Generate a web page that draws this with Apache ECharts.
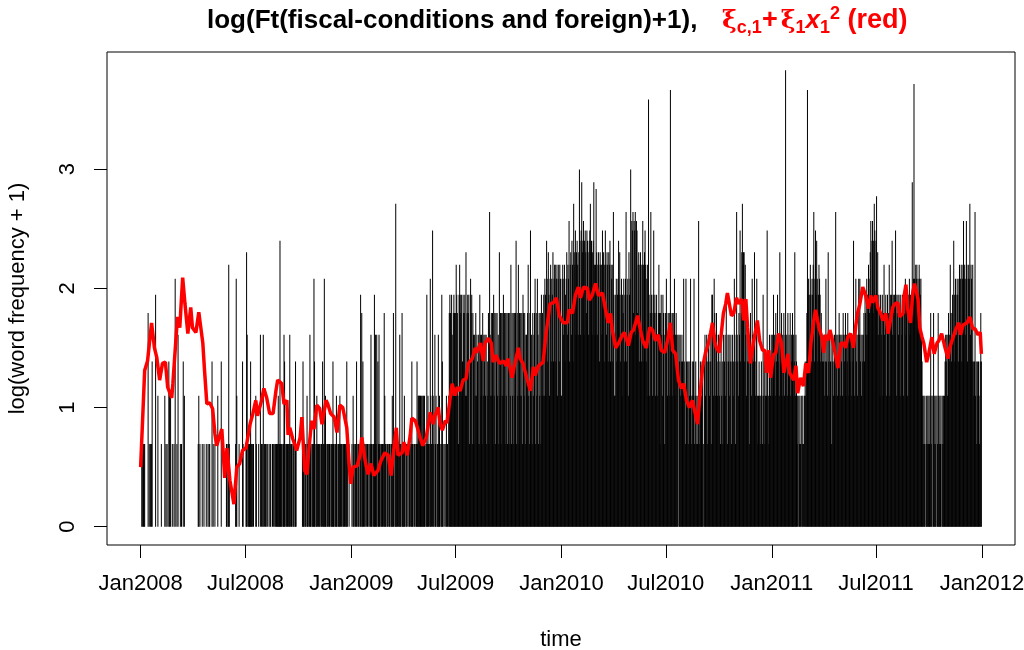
<!DOCTYPE html>
<html>
<head>
<meta charset="utf-8">
<title>log(Ft(fiscal-conditions and foreign)+1)</title>
<script src="https://cdn.jsdelivr.net/npm/echarts@6/dist/echarts.min.js"></script>
<style>
  html, body { margin: 0; padding: 0; background: #fff; }
  #chart { width: 1024px; height: 650px; }
</style>
</head>
<body>
<div id="chart"></div>
<script>
// daily word counts, one string per month (Jan2008 .. Dec2011), one char per day
// 0-9 then a=10 .. z=35, A=36 .. (read off the picture, so approximate)
const countDigits = '0123456789abcdefghijklmnopqrstuvwxyzABCDEFGHIJKLMNOPQRSTUVWXYZ';
const monthCounts = [
  // 2008
  '0011011100000501010130000060002',
  '00000100000201010032020010010',
  '7001040001010030200000000000000',
  '000000000120100010010001001011',
  '0003010010000200000300000000110',
  '181000000000017200010000031000',
  '0194011113111010002100010040101',
  '40101101001011001010110111211a1',
  '110114310111011410110110131000',
  '0000000131101102110141101117310',
  '121011101103117121011101101113',
  '1101121011121011011101131001000',
  // 2009
  '0102101103101101605131011010110',
  '1014110116141403141101110152',
  '110110111011215101e111011411051',
  '112101101011011311011011312222',
  '212122121016121017210b210412011',
  '412101631010102110256526425652',
  '5865216865623655629256561375615',
  '4142524314164241524342413251d42',
  '525162515352419251525625152515',
  '5152815251525a15281525251652514',
  '4258215b2415245715274152516252',
  '62762a7396278376937883782783872',
  // 2010
  '2784783679487c3894a83e98b49a849',
  'ja4bh9ac4ab95ba94abe9a49ah84',
  '8g9489839884b8938b8498398a38783',
  'd62267367a693672657367d3672967',
  'j4cbd5cbd4cb589389838c839b83782',
  'z625d6526b56256425851564265415',
  '57425452C5425457245434043423432',
  '73217323132372132371231212c1232',
  '233103423413432431664275245324',
  '4231423142342631434234134237413',
  'd43254b359e8993842534314532743',
  '49324721232123216231232b3214324',
  // 2011
  '342634253463429435243524J342534',
  '3524352439243120212102121023',
  '235C6736863768d37b6a73687635434',
  '342373429342341342342d34243542',
  '4342543452435424344243a42473424',
  '747342434536547648759c6ac5aeb6',
  'af69465265462584562564582656a46',
  '564b625646526546526574652657465',
  '6h57E7687867587674321212012121',
  '2125120251212021521212012212343',
  '424534853564a6376476378478378c',
  '7847c83787e48738323d23132321353'
];

// red fitted curve: day number since 1 Jan 2008 and value
const redDays = [
  0, 7, 12, 19, 24, 28, 33, 38, 43, 47, 54, 56, 61, 64, 68, 73, 77, 82, 87, 90,
  96, 101, 108, 111, 115, 120, 125, 129, 132, 141, 146, 150, 155, 162, 167, 172, 177, 183, 190, 195,
  200, 203, 210, 214, 219, 224, 230, 235, 238, 245, 249, 254, 256, 259, 264, 271, 277, 280, 285, 289,
  292, 297, 301, 306, 311, 315, 322, 325, 330, 336, 341, 346, 351, 358, 362, 365, 369, 376, 381, 384,
  390, 395, 400, 405, 412, 417, 424, 430, 435, 438, 444, 447, 454, 457, 463, 468, 471, 477, 482, 485,
  490, 496, 503, 508, 511, 517, 520, 524, 529, 532, 537, 541, 546, 550, 555, 560, 565, 569, 576, 581,
  584, 590, 595, 598, 604, 609, 612, 617, 623, 630, 635, 638, 645, 649, 656, 659, 664, 671, 677, 682,
  685, 691, 699, 704, 711, 717, 722, 727, 734, 741, 744, 750, 755, 760, 764, 769, 776, 779, 784, 790,
  795, 802, 807, 812, 816, 819, 825, 830, 837, 840, 847, 852, 856, 863, 868, 872, 878, 884, 889, 894,
  899, 904, 910, 915, 920, 924, 929, 934, 939, 943, 948, 953, 958, 964, 967, 972, 976, 981, 986, 990,
  993, 997, 1000, 1005, 1012, 1016, 1019, 1026, 1030, 1035, 1038, 1044, 1047, 1051, 1054, 1059, 1064, 1071, 1075, 1080,
  1084, 1087, 1091, 1094, 1099, 1103, 1108, 1113, 1117, 1124, 1127, 1134, 1138, 1141, 1146, 1151, 1155, 1160, 1164, 1169,
  1172, 1178, 1183, 1186, 1190, 1193, 1197, 1202, 1205, 1211, 1216, 1221, 1224, 1228, 1233, 1238, 1242, 1245, 1249, 1251,
  1254, 1259, 1264, 1268, 1271, 1277, 1280, 1285, 1289, 1294, 1298, 1301, 1306, 1310, 1315, 1318, 1324, 1325, 1329, 1332,
  1337, 1341, 1344, 1350, 1353, 1357, 1360, 1365, 1369, 1374, 1378, 1383, 1386, 1391, 1397, 1402, 1405, 1411, 1416, 1421,
  1424, 1428, 1435, 1440, 1445, 1449, 1454, 1458, 1460
];
const redValues = [
  0.50, 1.31, 1.39, 1.71, 1.50, 1.42, 1.23, 1.37, 1.38, 1.17, 1.08, 1.20, 1.55, 1.76, 1.67, 2.09, 1.87, 1.62, 1.84, 1.67,
  1.63, 1.80, 1.54, 1.31, 1.03, 1.04, 0.99, 0.78, 0.68, 0.82, 0.41, 0.66, 0.39, 0.19, 0.50, 0.53, 0.64, 0.66, 0.86, 0.95,
  1.06, 0.93, 1.06, 1.16, 1.08, 0.95, 0.95, 1.14, 1.23, 1.20, 1.03, 1.06, 0.77, 0.83, 0.74, 0.64, 0.75, 0.92, 0.47, 0.44,
  0.64, 0.89, 0.82, 1.02, 0.99, 0.86, 1.06, 1.03, 0.95, 0.92, 0.79, 1.02, 1.00, 0.83, 0.53, 0.36, 0.50, 0.51, 0.60, 0.75,
  0.55, 0.44, 0.53, 0.43, 0.47, 0.55, 0.62, 0.60, 0.43, 0.58, 0.83, 0.60, 0.62, 0.71, 0.60, 0.76, 0.91, 0.89, 0.81, 0.75,
  0.68, 0.75, 0.96, 0.86, 0.93, 1.00, 0.86, 0.81, 0.89, 0.87, 1.06, 1.20, 1.10, 1.17, 1.14, 1.23, 1.24, 1.37, 1.41, 1.50,
  1.46, 1.54, 1.39, 1.54, 1.58, 1.54, 1.38, 1.44, 1.37, 1.39, 1.35, 1.41, 1.25, 1.35, 1.50, 1.41, 1.37, 1.24, 1.14, 1.34,
  1.27, 1.35, 1.38, 1.62, 1.87, 1.88, 1.92, 1.77, 1.71, 1.71, 1.82, 1.79, 1.94, 2.01, 1.92, 2.01, 2.00, 1.90, 1.94, 2.04,
  1.94, 1.96, 1.83, 1.71, 1.79, 1.65, 1.50, 1.54, 1.61, 1.63, 1.52, 1.63, 1.65, 1.77, 1.65, 1.56, 1.50, 1.67, 1.65, 1.56,
  1.61, 1.48, 1.46, 1.56, 1.71, 1.48, 1.45, 1.23, 1.16, 1.20, 1.06, 1.00, 1.06, 0.93, 0.86, 1.14, 1.34, 1.46, 1.54, 1.63,
  1.71, 1.55, 1.50, 1.46, 1.79, 1.87, 1.96, 1.77, 1.79, 1.92, 1.87, 1.91, 1.73, 1.91, 1.67, 1.37, 1.54, 1.73, 1.56, 1.48,
  1.48, 1.29, 1.48, 1.25, 1.44, 1.46, 1.62, 1.54, 1.29, 1.45, 1.29, 1.23, 1.35, 1.12, 1.25, 1.18, 1.37, 1.29, 1.54, 1.73,
  1.82, 1.67, 1.59, 1.46, 1.61, 1.56, 1.65, 1.55, 1.48, 1.33, 1.54, 1.54, 1.50, 1.59, 1.62, 1.50, 1.69, 1.79, 1.87, 1.88,
  2.01, 1.94, 1.83, 1.94, 1.88, 1.94, 1.84, 1.79, 1.73, 1.79, 1.62, 1.61, 1.84, 1.87, 1.88, 1.76, 1.79, 1.91, 2.03, 1.82,
  1.71, 1.97, 2.04, 1.91, 1.67, 1.59, 1.54, 1.38, 1.46, 1.59, 1.45, 1.54, 1.56, 1.62, 1.50, 1.41, 1.50, 1.59, 1.66, 1.71,
  1.61, 1.69, 1.71, 1.76, 1.66, 1.66, 1.61, 1.63, 1.45
];

const xTickLabels = ['Jan2008', 'Jul2008', 'Jan2009', 'Jul2009', 'Jan2010', 'Jul2010', 'Jan2011', 'Jul2011', 'Jan2012'];
const yTickValues = [0, 1, 2, 3];

const DAY_MS = 86400000;
const dayOf = (y, m, d) => (Date.UTC(y, m, d) - Date.UTC(2008, 0, 1)) / DAY_MS;

// bars: log(count + 1) for each day
const dailyBars = [];
monthCounts.forEach((s, k) => {
    const y = 2008 + Math.floor(k / 12), m = k % 12;
    const first = dayOf(y, m, 1);
    const n = dayOf(y, m + 1, 1) - first;
    for (let i = 0; i < Math.min(n, s.length); i++) {
        const c = countDigits.indexOf(s[i]);
        if (c > 0) dailyBars.push([first + i, Math.log(c + 1)]);
    }
});

const redLine = redDays.map((d, i) => [d, redValues[i]]);

const xTickDays = xTickLabels.map(t => dayOf(+t.slice(3), t.startsWith('Jan') ? 0 : 6, 1));
const labelByDay = {};
xTickDays.forEach((d, i) => { labelByDay[d] = xTickLabels[i]; });

const FONT = '"Liberation Sans", Arial, Helvetica, sans-serif';

const chart = echarts.init(document.getElementById('chart'));
chart.setOption({
    animation: false,
    backgroundColor: '#fff',
    title: {
        left: 207,
        top: 5,
        padding: 0,
        text: '{b|log(Ft(fiscal-conditions and foreign)+1),   }{xi|ξ}{s|c,1}{r|+}{xi|ξ}{s|1}{i|x}{s|1}{p|2}{r| (red)}',
        textStyle: {
            rich: {
                b: { fontFamily: FONT, fontWeight: 'bold', fontSize: 26, color: '#000', lineHeight: 32 },
                r: { fontFamily: FONT, fontWeight: 'bold', fontSize: 27, color: '#ff0000', lineHeight: 32 },
                i: { fontFamily: FONT, fontWeight: 'bold', fontStyle: 'italic', fontSize: 26, color: '#ff0000', lineHeight: 32 },
                xi: { fontFamily: '"DejaVu Serif", serif', fontSize: 25, color: '#ff0000', lineHeight: 32, padding: [0, 0, 0, 3] },
                s: { fontFamily: FONT, fontWeight: 'bold', fontSize: 18, color: '#ff0000', lineHeight: 22, verticalAlign: 'bottom' },
                p: { fontFamily: FONT, fontWeight: 'bold', fontSize: 18, color: '#ff0000', lineHeight: 22, verticalAlign: 'top' }
            }
        }
    },
    grid: {
        left: 107, right: 9, top: 52, bottom: 105,
        outerBoundsMode: 'none',
        show: true, borderColor: '#000', borderWidth: 1
    },
    xAxis: {
        type: 'value',
        min: -58.4,
        max: 1518.4,
        name: 'time',
        nameLocation: 'middle',
        nameGap: 84,
        nameTextStyle: { fontFamily: FONT, fontSize: 22, color: '#000', verticalAlign: 'top' },
        axisLine: { show: false, onZero: false },
        axisTick: { show: true, length: 13, customValues: xTickDays, lineStyle: { color: '#000' } },
        axisLabel: {
            customValues: xTickDays,
            formatter: v => labelByDay[v] || '',
            margin: 28,
            fontFamily: FONT, fontSize: 22, color: '#000'
        },
        splitLine: { show: false }
    },
    yAxis: {
        type: 'value',
        min: -0.1531,
        max: 3.9818,
        name: 'log(word frequency + 1)',
        nameLocation: 'middle',
        nameRotate: 90,
        nameGap: 78,
        nameTextStyle: { fontFamily: FONT, fontSize: 22, color: '#000' },
        axisLine: { show: false, onZero: false },
        axisTick: { show: true, length: 13, customValues: yTickValues, lineStyle: { color: '#000' } },
        axisLabel: {
            customValues: yTickValues,
            rotate: 90,
            margin: 28,
            fontFamily: FONT, fontSize: 22, color: '#000'
        },
        splitLine: { show: false }
    },
    series: [
        {
            name: 'counts',
            type: 'bar',
            data: dailyBars,
            barWidth: 0.75,
            silent: true,
            itemStyle: { color: '#000' }
        },
        {
            name: 'fit',
            type: 'line',
            data: redLine,
            showSymbol: false,
            silent: true,
            z: 5,
            lineStyle: { color: '#ff0000', width: 3.5 },
            itemStyle: { color: '#ff0000' }
        }
    ]
});
</script>
</body>
</html>
